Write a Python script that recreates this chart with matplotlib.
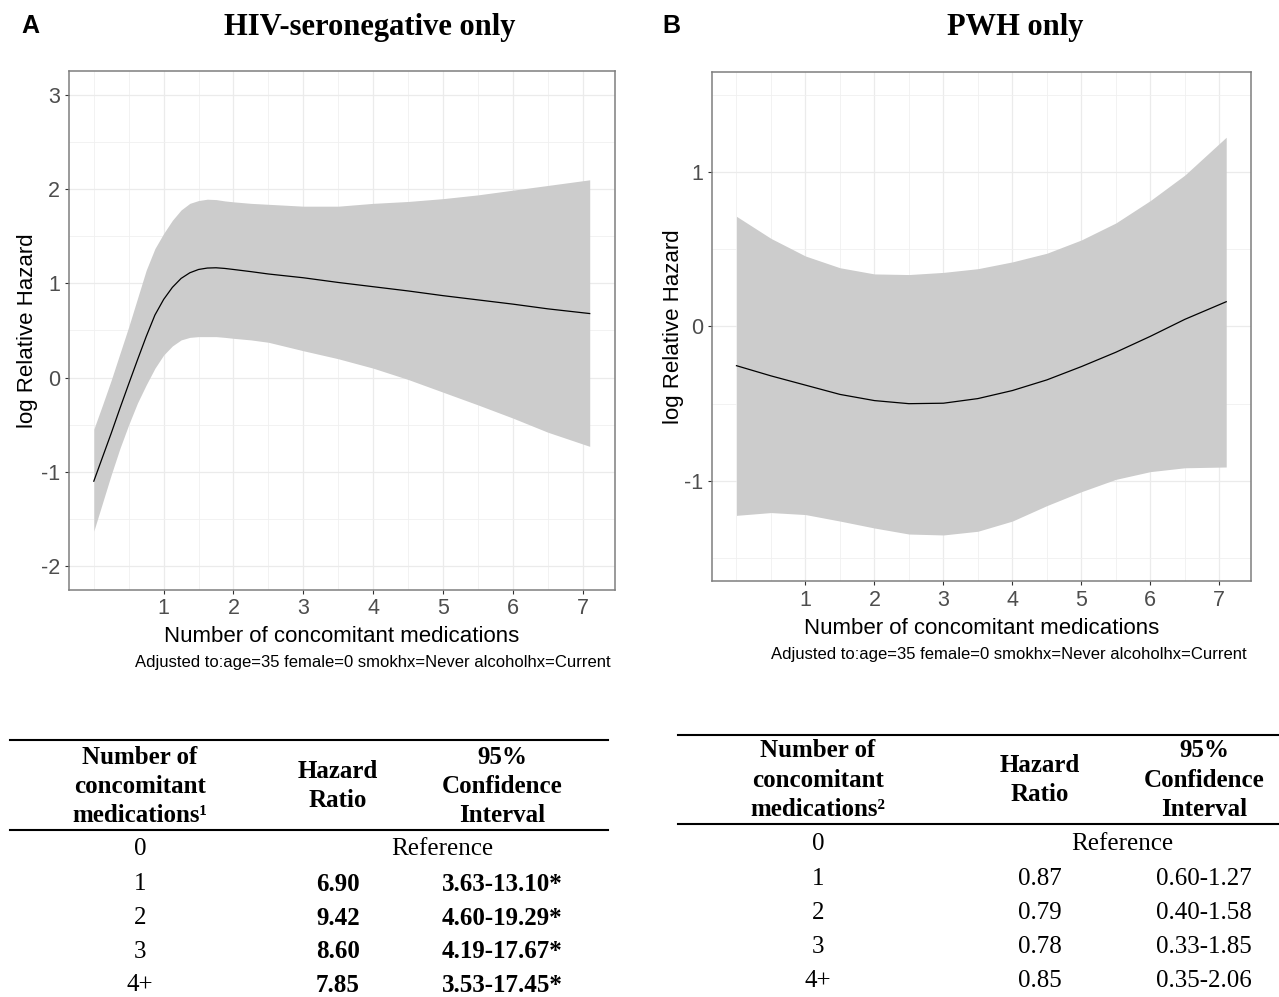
import matplotlib
matplotlib.use("Agg")
import matplotlib.pyplot as plt
from matplotlib.ticker import FixedLocator
from matplotlib.lines import Line2D

plt.rcParams["axes.unicode_minus"] = False

W, H = 1279, 997
SANS = "Liberation Sans"
SERIF = "Liberation Serif"

# ---- panel A: HIV-seronegative only ----
a_x = [0, 0.125, 0.25, 0.375, 0.5, 0.625, 0.75, 0.875, 1, 1.125, 1.25, 1.375, 1.5,
       1.625, 1.75, 1.875, 2, 2.25, 2.5, 3, 3.5, 4, 4.5, 5, 5.5, 6, 6.5, 7.1]
a_fit = [-1.10, -0.845, -0.59, -0.325, -0.067, 0.187, 0.435, 0.664, 0.83, 0.958, 1.053,
         1.113, 1.148, 1.163, 1.166, 1.159, 1.148, 1.125, 1.10, 1.06, 1.01, 0.965, 0.92,
         0.87, 0.825, 0.78, 0.73, 0.68]
a_upper = [-0.548, -0.29, -0.025, 0.258, 0.54, 0.84, 1.14, 1.37, 1.53, 1.67, 1.78, 1.85,
           1.88, 1.894, 1.89, 1.876, 1.866, 1.85, 1.84, 1.82, 1.82, 1.85, 1.87, 1.90, 1.94,
           1.99, 2.04, 2.10]
a_lower = [-1.63, -1.33, -1.03, -0.75, -0.50, -0.27, -0.078, 0.099, 0.24, 0.336, 0.40,
           0.427, 0.435, 0.435, 0.435, 0.427, 0.417, 0.40, 0.375, 0.285, 0.20, 0.10, -0.02,
           -0.155, -0.29, -0.43, -0.58, -0.73]

# ---- panel B: PWH only ----
b_x = [0, 0.5, 1, 1.5, 2, 2.5, 3, 3.5, 4, 4.5, 5, 5.5, 6, 6.5, 7.1]
b_fit = [-0.254, -0.32, -0.38, -0.44, -0.48, -0.50, -0.497, -0.467, -0.415, -0.346,
         -0.26, -0.167, -0.064, 0.046, 0.16]
b_upper = [0.713, 0.57, 0.456, 0.38, 0.34, 0.336, 0.35, 0.374, 0.418, 0.474, 0.56,
           0.67, 0.815, 0.98, 1.225]
b_lower = [-1.223, -1.205, -1.218, -1.26, -1.305, -1.344, -1.35, -1.326, -1.26, -1.16,
           -1.07, -0.99, -0.94, -0.915, -0.91]

# ---- tables ----
row_labels = ["0", "1", "2", "3", "4+"]
a_hr = ["6.90", "9.42", "8.60", "7.85"]
a_ci = ["3.63-13.10*", "4.60-19.29*", "4.19-17.67*", "3.53-17.45*"]
b_hr = ["0.87", "0.79", "0.78", "0.85"]
b_ci = ["0.60-1.27", "0.40-1.58", "0.33-1.85", "0.35-2.06"]

caption = "Adjusted to:age=35 female=0 smokhx=Never alcoholhx=Current"
xlab = "Number of concomitant medications"
ylab = "log Relative Hazard"

fig = plt.figure(figsize=(W / 100, H / 100), dpi=100)

# overlay in pixel coordinates for titles, labels and tables
ov = fig.add_axes([0, 0, 1, 1])
ov.set_xlim(0, W)
ov.set_ylim(H, 0)
ov.axis("off")
ov.patch.set_alpha(0)


def spline_panel(box, xs, fit, lo, hi, ylim, yticks, yminor):
    left, top, right, bottom = box
    ax = fig.add_axes([left / W, 1 - bottom / H, (right - left) / W, (bottom - top) / H])
    ax.fill_between(xs, lo, hi, color="#CCCCCC", linewidth=0, zorder=2)
    ax.plot(xs, fit, color="black", linewidth=0.9, zorder=3)
    ax.set_xlim(-0.355, 7.455)
    ax.set_ylim(*ylim)
    ax.set_xticks(range(1, 8))
    ax.set_yticks(yticks)
    ax.xaxis.set_minor_locator(FixedLocator([0, 0.5, 1.5, 2.5, 3.5, 4.5, 5.5, 6.5]))
    ax.yaxis.set_minor_locator(FixedLocator(yminor))
    ax.grid(which="major", color="#EBEBEB", linewidth=0.9, zorder=0)
    ax.grid(which="minor", color="#F0F0F0", linewidth=0.6, zorder=0)
    ax.set_axisbelow(True)
    ax.tick_params(which="major", length=3.1, width=0.8, color="#333333",
                   labelsize=15.5, labelcolor="#4D4D4D", pad=3.2)
    ax.tick_params(which="minor", length=0)
    for lbl in ax.get_xticklabels() + ax.get_yticklabels():
        lbl.set_fontfamily(SANS)
    for sp in ax.spines.values():
        sp.set_color("#7F7F7F")
        sp.set_linewidth(1.1)
    return ax


axA = spline_panel((69, 71.5, 614.5, 589.5), a_x, a_fit, a_lower, a_upper,
                   (-2.25, 3.25), [-2, -1, 0, 1, 2, 3], [-1.5, -0.5, 0.5, 1.5, 2.5])
axB = spline_panel((712, 71.6, 1250.7, 581.3), b_x, b_fit, b_lower, b_upper,
                   (-1.65, 1.65), [-1, 0, 1], [-1.5, -0.5, 0.5, 1.5])

# panel letters and titles
ov.text(21, 33, "A", ha="left", va="baseline", fontfamily=SANS, fontweight="bold", fontsize=18)
ov.text(662, 33, "B", ha="left", va="baseline", fontfamily=SANS, fontweight="bold", fontsize=18)
ov.text(370, 35, "HIV-seronegative only", ha="center", va="baseline",
        fontfamily=SERIF, fontweight="bold", fontsize=22)
ov.text(1015, 35, "PWH only", ha="center", va="baseline",
        fontfamily=SERIF, fontweight="bold", fontsize=22)

# axis titles and captions
ov.text(28, 330.5, ylab, rotation=90, ha="center", va="center", fontfamily=SANS, fontsize=16)
ov.text(673, 326.5, ylab, rotation=90, ha="center", va="center", fontfamily=SANS, fontsize=16)
ov.text(341.8, 641.7, xlab, ha="center", va="baseline", fontfamily=SANS, fontsize=16)
ov.text(981.4, 633.5, xlab, ha="center", va="baseline", fontfamily=SANS, fontsize=16)
ov.text(611, 667, caption, ha="right", va="baseline", fontfamily=SANS, fontsize=12)
ov.text(1247, 659, caption, ha="right", va="baseline", fontfamily=SANS, fontsize=12)


def table(x0, x1, top_rule, head_rule, cols, ref_x, head_y, rows_y, sup, hr, ci, bold):
    ov.add_line(Line2D([x0, x1], [top_rule, top_rule], color="black", linewidth=1.5))
    ov.add_line(Line2D([x0, x1], [head_rule, head_rule], color="black", linewidth=1.5))
    hkw = dict(ha="center", va="center", fontfamily=SERIF, fontweight="bold", fontsize=18)
    ov.text(cols[0], head_y[0], "Number of", **hkw)
    ov.text(cols[0], head_y[1], "concomitant", **hkw)
    ov.text(cols[0], head_y[2], "medications" + sup, **hkw)
    ov.text(cols[1], (head_y[0] + head_y[1]) / 2, "Hazard", **hkw)
    ov.text(cols[1], (head_y[1] + head_y[2]) / 2, "Ratio", **hkw)
    ov.text(cols[2], head_y[0], "95%", **hkw)
    ov.text(cols[2], head_y[1], "Confidence", **hkw)
    ov.text(cols[2], head_y[2], "Interval", **hkw)
    rkw = dict(ha="center", va="center", fontfamily=SERIF, fontsize=18)
    vkw = dict(rkw, fontweight="bold" if bold else "normal")
    for i, lab in enumerate(row_labels):
        ov.text(cols[0], rows_y[i], lab, **rkw)
    ov.text(ref_x, rows_y[0], "Reference", **rkw)
    for i in range(len(hr)):
        ov.text(cols[1], rows_y[i + 1], hr[i], **vkw)
        ov.text(cols[2], rows_y[i + 1], ci[i], **vkw)


table(10, 608, 740, 830, (140, 338, 502), 442, (757, 786, 815),
      (849, 884, 918, 951.5, 985), "\u00b9", a_hr, a_ci, True)
table(678, 1279, 734.5, 824, (818, 1040, 1204), 1122, (750, 780, 809),
      (844, 879, 913, 947, 981), "\u00b2", b_hr, b_ci, False)

fig.savefig("out.png", dpi=100)
